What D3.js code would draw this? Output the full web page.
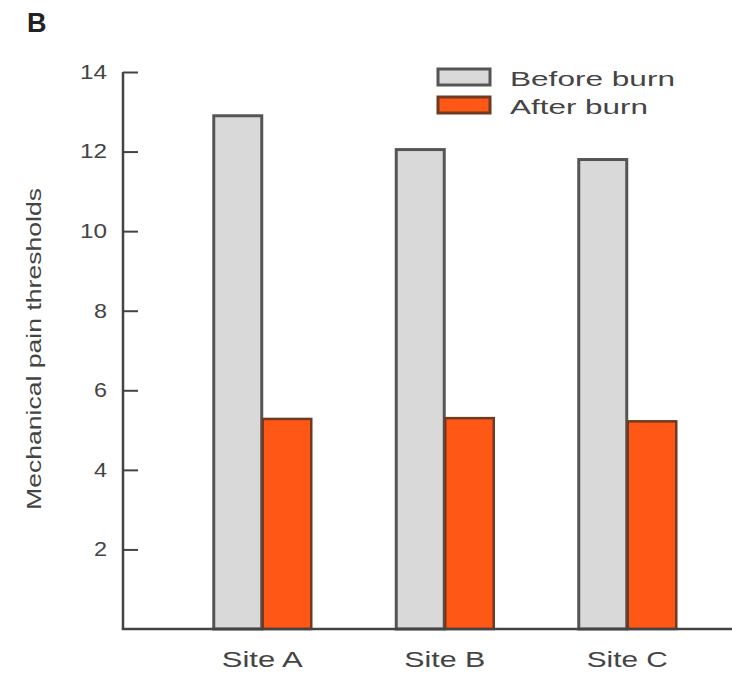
<!DOCTYPE html>
<html>
<head>
<meta charset="utf-8">
<script src="https://cdn.jsdelivr.net/npm/d3@7"></script>
<style>
  html, body { margin: 0; padding: 0; background: #fff; }
  svg { display: block; font-family: "Liberation Sans", Arial, Helvetica, sans-serif; }
</style>
</head>
<body>
<svg id="chart" width="732" height="673"></svg>
<script>
// ---- data ----
const sites = ["Site A", "Site B", "Site C"];
const seriesNames = ["Before burn", "After burn"];
const beforeBurn = [12.9, 12.05, 11.8];
const afterBurn = [5.28, 5.3, 5.22];
const yTicks = [2, 4, 6, 8, 10, 12, 14];

const colors = { "Before burn": "#d9d9d9", "After burn": "#ff5716" };
const strokes = { "Before burn": "#555555", "After burn": "#6e3b22" };

const svg = d3.select("#chart");

const x0 = 123, yBottom = 629, yTop = 72;
const y = d3.scaleLinear().domain([0, 14]).range([yBottom, yTop]);

const p = 1 - 100 / 182.5;
const xBand = d3.scaleBand().domain(sites).range([171, 718.5])
  .paddingInner(p).paddingOuter(p / 2);
const xSub = d3.scaleBand().domain(seriesNames).range([0, xBand.bandwidth()]);

const data = sites.map((s, i) => ({ site: s, values: [
  { name: "Before burn", value: beforeBurn[i] },
  { name: "After burn", value: afterBurn[i] }
]}));

const textColor = "#444";

// bars
const g = svg.append("g");
const groups = g.selectAll("g.site").data(data).join("g")
  .attr("transform", d => `translate(${xBand(d.site)},0)`);
groups.selectAll("rect").data(d => d.values).join("rect")
  .attr("x", d => xSub(d.name) + (d.name === "Before burn" ? 1.5 : 0.5))
  .attr("width", d => xSub.bandwidth() - (d.name === "Before burn" ? 2 : 1.5))
  .attr("y", d => y(d.value))
  .attr("height", d => yBottom - y(d.value))
  .attr("fill", d => colors[d.name])
  .attr("stroke", d => strokes[d.name])
  .attr("stroke-width", d => d.name === "Before burn" ? 3 : 2.5);

// y axis
const yAxis = d3.axisLeft(y).tickValues(yTicks).tickSizeInner(-15).tickSizeOuter(0).tickPadding(16);
const ya = svg.append("g").attr("transform", `translate(${x0},0)`).call(yAxis);
ya.select(".domain").attr("stroke", "#444").attr("stroke-width", 2.5)
  .attr("d", `M0,${y(14)}V${yBottom}`);
ya.selectAll(".tick line").attr("stroke", "#444").attr("stroke-width", 2);
ya.selectAll(".tick text")
  .attr("fill", textColor)
  .style("font-size", "20px")
  .attr("textLength", d => d >= 10 ? 27 : 13)
  .attr("lengthAdjust", "spacingAndGlyphs");

// x axis line
svg.append("line")
  .attr("x1", x0 - 1.25).attr("x2", 732)
  .attr("y1", yBottom).attr("y2", yBottom)
  .attr("stroke", "#444").attr("stroke-width", 2.5);

// x labels
svg.append("g").selectAll("text").data(sites).join("text")
  .attr("x", d => xBand(d) + xBand.bandwidth() / 2)
  .attr("y", 667)
  .attr("text-anchor", "middle")
  .attr("fill", textColor)
  .style("font-size", "22px")
  .attr("textLength", 81)
  .attr("lengthAdjust", "spacingAndGlyphs")
  .text(d => d);

// y label
svg.append("text")
  .attr("transform", "translate(41,349) rotate(-90)")
  .attr("text-anchor", "middle")
  .attr("fill", textColor)
  .style("font-size", "20px")
  .attr("textLength", 322)
  .attr("lengthAdjust", "spacingAndGlyphs")
  .text("Mechanical pain thresholds");

// panel label
svg.append("text")
  .attr("x", 27).attr("y", 32)
  .attr("fill", "#222")
  .style("font-size", "27px")
  .style("font-weight", "bold")
  .text("B");

// legend
const legendY = [69, 97];
const legendW = [165, 138];
const lg = svg.append("g").selectAll("g").data(seriesNames).join("g")
  .attr("transform", (d, i) => `translate(438,${legendY[i]})`);
lg.append("rect")
  .attr("width", 52).attr("height", 16)
  .attr("fill", d => colors[d])
  .attr("stroke", d => strokes[d])
  .attr("stroke-width", 3);
lg.append("text")
  .attr("x", 72).attr("y", 16.5)
  .attr("fill", textColor)
  .style("font-size", "21px")
  .attr("textLength", (d, i) => legendW[i])
  .attr("lengthAdjust", "spacingAndGlyphs")
  .text(d => d);
</script>
</body>
</html>
